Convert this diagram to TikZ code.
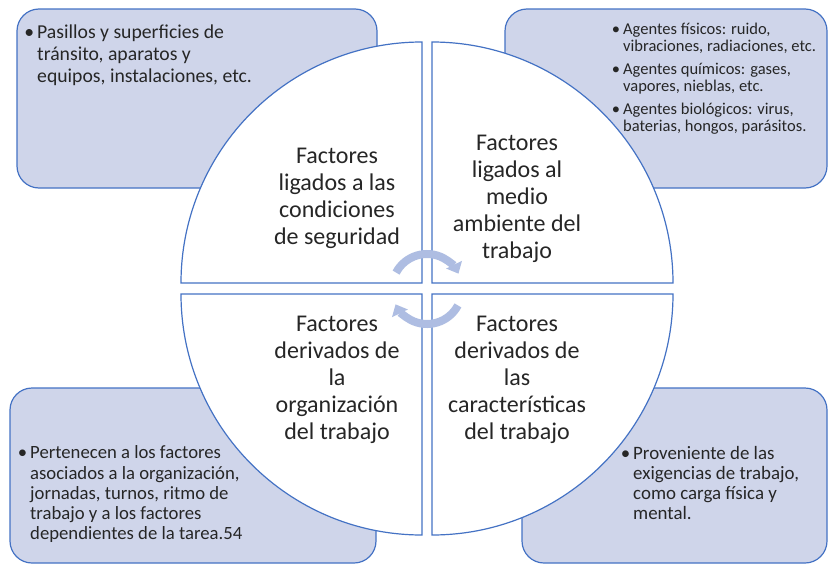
\documentclass[tikz,border=0pt]{standalone}
\usepackage{fontspec}
\setmainfont{Carlito}
\usetikzlibrary{arrows.meta}
\definecolor{frameblue}{RGB}{68,114,196}
\definecolor{boxfill}{RGB}{207,213,234}
\definecolor{cyclearrow}{RGB}{174,189,226}
\newcommand{\vineta}{\llap{\textbullet\hspace{3pt}}}
\tikzset{infobox/.style={draw=frameblue, fill=boxfill, line width=1.2pt,
                         rounded corners=22pt, inner sep=0pt},
        wedge/.style={draw=frameblue, fill=white, line width=1.2pt},
        factor/.style={align=center, text=black!85,
                       font=\fontsize{24}{27}\selectfont},
        bullets/.style={align=left, inner sep=0pt, anchor=north west,
                        text=black!85},
        cyclearc/.style={draw=cyclearrow, line width=8pt,
                         -{Triangle[width=17pt,length=10pt]}},
        }

\begin{document}
\begin{tikzpicture}[x=1pt,y=1pt]
    \useasboundingbox (0,0) rectangle (828,-565);

    \node[infobox, minimum width=360pt, minimum height=179pt] (secbox) at (197,-98.5) {};
    \node[infobox, minimum width=322pt, minimum height=179pt] (envbox) at (666,-98.5) {};
    \node[infobox, minimum width=366pt, minimum height=175pt] (orgbox) at (193,-475.5) {};
    \node[infobox, minimum width=305pt, minimum height=175pt] (taskbox) at (674.5,-475.5) {};

    \draw[wedge] (422,-283) -- (181,-283) arc[start angle=180, end angle=90, radius=241pt] -- cycle;
    \draw[wedge] (432,-283) -- (432,-42) arc[start angle=90, end angle=0, radius=241pt] -- cycle;
    \draw[wedge] (422,-294) -- (422,-535) arc[start angle=270, end angle=180, radius=241pt] -- cycle;
    \draw[wedge] (432,-294) -- (673,-294) arc[start angle=0, end angle=-90, radius=241pt] -- cycle;

    \node[factor] (secfac) at (337,-198) {Factores\\ligados a las\\condiciones\\de seguridad};
    \node[factor] (envfac) at (517,-199) {Factores\\ligados al\\medio\\ambiente del\\trabajo};
    \node[factor] (orgfac) at (337,-380) {Factores\\derivados de\\la\\organización\\del trabajo};
    \node[factor] (taskfac) at (517,-380) {Factores\\derivados de\\las\\características\\del trabajo};

    \node[bullets, font=\fontsize{19.7}{21.7}\selectfont] (sectxt) at (37,-25)
        {\vineta Pasillos y superficies de\\tránsito, aparatos y\\equipos, instalaciones, etc.};
    \node[bullets, font=\fontsize{16.5}{17}\selectfont] (envtxt) at (623,-22.4)
        {\vineta Agentes físicos: ruido,\\vibraciones, radiaciones, etc.\\[6pt]
         \vineta Agentes químicos: gases,\\vapores, nieblas, etc.\\[6pt]
         \vineta Agentes biológicos: virus,\\baterias, hongos, parásitos.};
    \node[bullets, font=\fontsize{18.7}{20.3}\selectfont] (orgtxt) at (30,-445.6)
        {\vineta Pertenecen a los factores\\asociados a la organización,\\jornadas, turnos, ritmo de\\trabajo y a los factores\\dependientes de la tarea.54};
    \node[bullets, font=\fontsize{18.9}{20}\selectfont] (tasktxt) at (633,-446.6)
        {\vineta Proveniente de las\\exigencias de trabajo,\\como carga física y\\mental.};

    \draw[cyclearc] (427,-289) ++(152:35pt) arc[start angle=152, end angle=26, radius=35pt];
    \draw[cyclearc] (427,-289) ++(-28:35pt) arc[start angle=-28, end angle=-154, radius=35pt];
\end{tikzpicture}
\end{document}
